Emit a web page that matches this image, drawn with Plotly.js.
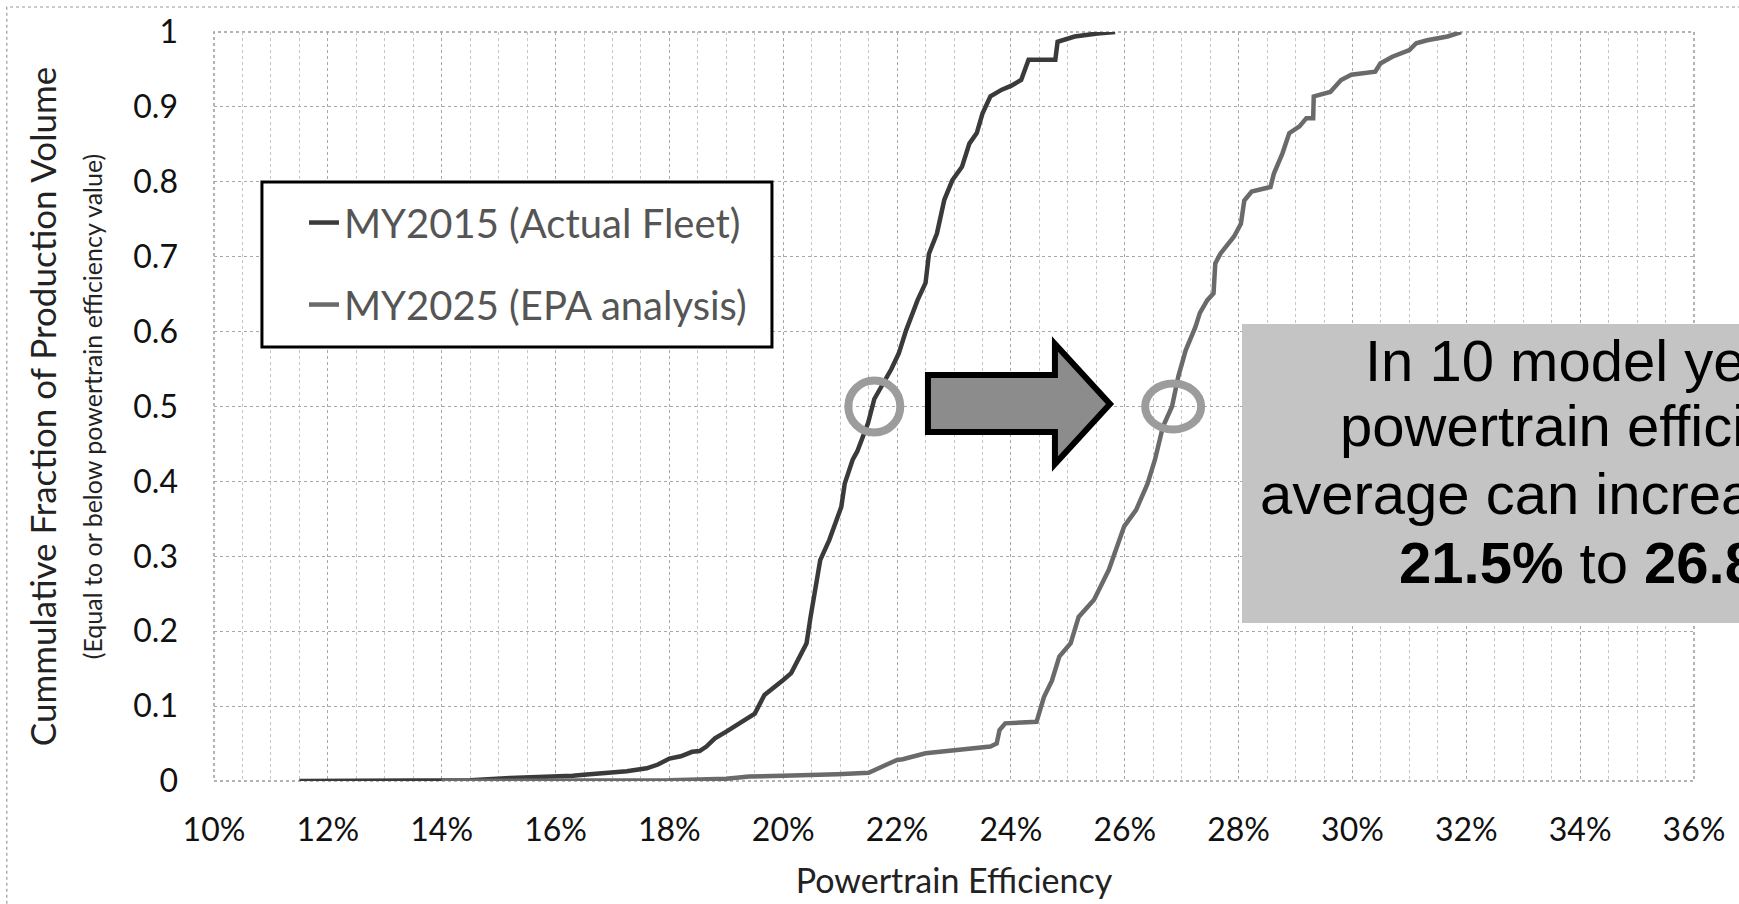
<!DOCTYPE html>
<html>
<head>
<meta charset="utf-8">
<script src="https://cdn.plot.ly/plotly-3.0.1.min.js"></script>
<style>
  html, body { margin: 0; padding: 0; background: #ffffff; }
  #chart { width: 1739px; height: 904px; }
</style>
</head>
<body>
<div id="chart"></div>
<script>
// ---- data (powertrain efficiency in %, cumulative fraction) ----
const seriesNames = ["MY2015 (Actual Fleet)", "MY2025 (EPA analysis)"];

const my2015Eff = [11.5, 13.0, 14.5, 15.2, 15.8, 16.3, 16.6, 17.0, 17.25, 17.6, 17.8, 18.0, 18.2, 18.4, 18.53, 18.65, 18.8, 19.0, 19.2, 19.4, 19.5, 19.67, 19.85, 20.0, 20.14, 20.28, 20.41, 20.48, 20.55, 20.65, 20.81, 20.9, 21.02, 21.08, 21.22, 21.3, 21.4, 21.49, 21.6, 21.75, 21.9, 22.03, 22.16, 22.36, 22.5, 22.56, 22.7, 22.83, 22.97, 23.14, 23.27, 23.4, 23.5, 23.64, 23.84, 24.0, 24.18, 24.31, 24.5, 24.78, 24.82, 25.12, 25.52, 25.83];
const my2015Cum = [0, 0, 0.001, 0.004, 0.005, 0.007, 0.009, 0.011, 0.013, 0.017, 0.022, 0.030, 0.033, 0.039, 0.040, 0.046, 0.057, 0.066, 0.075, 0.084, 0.090, 0.115, 0.125, 0.135, 0.144, 0.166, 0.184, 0.219, 0.25, 0.295, 0.322, 0.34, 0.366, 0.397, 0.429, 0.44, 0.46, 0.478, 0.51, 0.53, 0.55, 0.571, 0.602, 0.642, 0.665, 0.704, 0.731, 0.776, 0.802, 0.820, 0.851, 0.865, 0.891, 0.914, 0.923, 0.928, 0.936, 0.963, 0.963, 0.963, 0.987, 0.994, 0.998, 1.0];

const my2025Eff = [14.0, 16.0, 18.0, 19.0, 19.4, 20.0, 20.8, 20.95, 21.5, 21.7, 21.82, 22.0, 22.1, 22.5, 22.8, 23.1, 23.64, 23.75, 23.8, 23.9, 24.2, 24.45, 24.58, 24.72, 24.85, 25.05, 25.19, 25.46, 25.72, 25.99, 26.2, 26.4, 26.53, 26.67, 26.83, 26.94, 27.07, 27.24, 27.32, 27.45, 27.56, 27.59, 27.68, 27.92, 28.04, 28.1, 28.23, 28.56, 28.62, 28.77, 28.89, 29.07, 29.19, 29.31, 29.32, 29.61, 29.8, 29.98, 30.4, 30.49, 30.7, 31.0, 31.12, 31.31, 31.67, 31.91];
const my2025Cum = [0, 0, 0.001, 0.003, 0.006, 0.007, 0.008, 0.009, 0.011, 0.017, 0.022, 0.028, 0.029, 0.037, 0.039, 0.041, 0.046, 0.05, 0.068, 0.077, 0.078, 0.079, 0.112, 0.134, 0.166, 0.184, 0.219, 0.242, 0.282, 0.340, 0.362, 0.397, 0.429, 0.473, 0.5, 0.54, 0.575, 0.606, 0.625, 0.642, 0.651, 0.691, 0.704, 0.727, 0.744, 0.775, 0.787, 0.793, 0.811, 0.838, 0.865, 0.874, 0.885, 0.885, 0.914, 0.920, 0.936, 0.943, 0.947, 0.958, 0.967, 0.976, 0.985, 0.989, 0.994, 1.0];

// medians highlighted with circles
const medianEff = [21.6, 26.85];
const medianCum = [0.5, 0.5];

const xTitle = "Powertrain Efficiency";
const yTitle = "Cummulative Fraction of Production Volume";
const ySubTitle = "(Equal to or below powertrain efficiency value)";
const calloutLines = ["In 10 model years,", "powertrain efficiency", "average can increase from", "<b>21.5%</b> to <b>26.8%</b>"];

// ---- styling ----
const baseFont = "Lato, 'Open Sans', sans-serif";
const boxFont = "'Liberation Sans', Arial, sans-serif";

const traces = [
  {
    x: my2015Eff, y: my2015Cum, name: seriesNames[0], type: "scatter", mode: "lines",
    line: { color: "#3a3a3a", width: 4.5 }, legendgroup: "a"
  },
  {
    x: my2025Eff, y: my2025Cum, name: seriesNames[1], type: "scatter", mode: "lines",
    line: { color: "#6a6a6a", width: 4.5 }, legendgroup: "b"
  }
];

const shapes = [
  // outer chart frame
  { type: "rect", xref: "paper", yref: "paper", x0: -0.140, x1: 1.2, y0: -0.2, y1: 1.0334,
    line: { color: "#9a9a9a", width: 1.2, dash: "dot" }, layer: "below" },
  // plot area border
  { type: "rect", xref: "paper", yref: "paper", x0: 0, x1: 1, y0: 0, y1: 1,
    line: { color: "#9a9a9a", width: 1.5, dash: "dot" }, layer: "below" },
  // legend frame
  { type: "rect", xref: "paper", yref: "paper", x0: 0.0324, x1: 0.377, y0: 0.5794, y1: 0.7997,
    fillcolor: "#ffffff", line: { color: "#000000", width: 3 }, layer: "above" },
  // callout box
  { type: "rect", xref: "paper", yref: "paper", x0: 0.6946, x1: 1.184, y0: 0.211, y1: 0.610,
    fillcolor: "#c4c4c4", line: { width: 0 }, layer: "above" },
  // block arrow
  { type: "path", xref: "paper", yref: "paper",
    path: "M 0.4824 0.5421 L 0.5682 0.5421 L 0.5682 0.5834 L 0.6054 0.5033 L 0.5682 0.4232 L 0.5682 0.4660 L 0.4824 0.4660 Z",
    fillcolor: "#8c8c8c", line: { color: "#000000", width: 6 }, layer: "above" },
  // median circles
  { type: "circle", xref: "x", yref: "y", xsizemode: "pixel", ysizemode: "pixel",
    xanchor: medianEff[0], yanchor: medianCum[0], x0: -26, x1: 26, y0: -26, y1: 26,
    line: { color: "#9c9c9c", width: 8 }, layer: "above" },
  { type: "circle", xref: "x", yref: "y", xsizemode: "pixel", ysizemode: "pixel",
    xanchor: medianEff[1], yanchor: medianCum[1], x0: -28, x1: 28, y0: -23, y1: 23,
    line: { color: "#9c9c9c", width: 8 }, layer: "above" }
];

const lineY = [0.562, 0.475, 0.3845, 0.292];
const annotations = calloutLines.map((t, i) => ({
  xref: "paper", yref: "paper", x: 0.939, y: lineY[i], xanchor: "center", yanchor: "middle",
  text: t, showarrow: false, font: { family: boxFont, size: 58, color: "#000000" }
}));

const layout = {
  width: 1739, height: 904,
  margin: { l: 214, r: 45, t: 32, b: 123, pad: 0 },
  paper_bgcolor: "#ffffff", plot_bgcolor: "#ffffff",
  font: { family: baseFont, color: "#111111" },
  showlegend: true,
  legend: {
    x: 0.0608, y: 0.789, xanchor: "left", yanchor: "top",
    bgcolor: "rgba(0,0,0,0)", borderwidth: 0,
    font: { family: baseFont, size: 40, color: "#555555" },
    tracegroupgap: 27, itemwidth: 30
  },
  xaxis: {
    range: [10, 36], tick0: 10, dtick: 2, ticksuffix: "%",
    showgrid: true, gridcolor: "#a8a8a8", griddash: "dot", gridwidth: 1,
    minor: { dtick: 0.5, tick0: 10, showgrid: true, gridcolor: "#c4c4c4", griddash: "dot", gridwidth: 1 },
    zeroline: false, showline: false, ticks: "",
    tickfont: { family: baseFont, size: 32, color: "#111111" },
    ticklabelstandoff: 27,
    title: { text: xTitle, font: { family: baseFont, size: 34, color: "#222222" }, standoff: 22 },
    fixedrange: true
  },
  yaxis: {
    range: [0, 1], tick0: 0, dtick: 0.1,
    showgrid: true, gridcolor: "#a8a8a8", griddash: "dot", gridwidth: 1,
    zeroline: false, showline: false, ticks: "",
    tickfont: { family: baseFont, size: 32, color: "#111111" },
    ticklabelstandoff: 35,
    title: { text: yTitle + "<br><span style='font-size:25px'>" + ySubTitle + "</span>",
             font: { family: baseFont, size: 35, color: "#222222" }, standoff: 20 },
    fixedrange: true
  },
  shapes: shapes,
  annotations: annotations
};

Plotly.newPlot("chart", traces, layout, { displayModeBar: false, staticPlot: true });
</script>
</body>
</html>
